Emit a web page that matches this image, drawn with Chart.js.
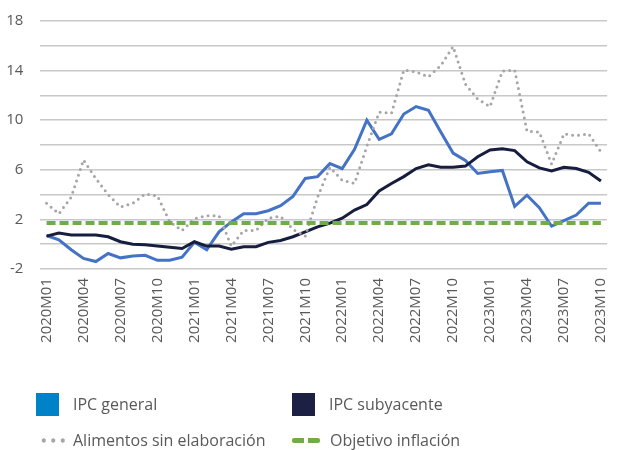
<!DOCTYPE html>
<html lang="es">
<head>
    <meta charset="UTF-8">
    <title>IPC</title>
    <script src="https://cdn.jsdelivr.net/npm/chart.js@4"></script>
    <style>
        body { margin: 0; background: #fff; font-family: "Open Sans", sans-serif; }
        .lienzo { position: relative; width: 628px; height: 450px; }
        .leyenda { position: absolute; left: 0; top: 0; width: 628px; height: 450px; pointer-events: none; }
        .item { position: absolute; display: flex; align-items: center; font-size: 16px; color: #595959; height: 24px; }
        .cuadro { width: 23px; height: 23px; margin-right: 14px; }
        .puntos { width: 30px; height: 5px; margin-right: 4px;
            background: radial-gradient(circle, #a6a6a6 1.9px, transparent 2.4px) 0 0 / 9.5px 5px repeat-x; }
        .rayas { width: 28px; height: 5px; margin-right: 10px;
            background: linear-gradient(90deg, #70ad47 0 12px, transparent 12px 16px, #70ad47 16px 28px); border-radius: 2px; }
    </style>
</head>
<body>
<div class="lienzo">
    <canvas id="grafico" width="628" height="450"></canvas>
    <div class="leyenda">
        <div class="item" style="left:36px; top:392px;"><span class="cuadro" style="background:#0082c8"></span>IPC general</div>
        <div class="item" style="left:292px; top:392px;"><span class="cuadro" style="background:#1c2143"></span>IPC subyacente</div>
        <div class="item" style="left:39px; top:428px;"><span class="puntos"></span>Alimentos sin elaboración</div>
        <div class="item" style="left:292px; top:428px;"><span class="rayas"></span>Objetivo inflación</div>
    </div>
</div>

<script>
    // Meses (2020M01 - 2023M10)
    const meses = [
        '2020M01', '2020M02', '2020M03', '2020M04', '2020M05', '2020M06', '2020M07', '2020M08', '2020M09', '2020M10', '2020M11', '2020M12',
        '2021M01', '2021M02', '2021M03', '2021M04', '2021M05', '2021M06', '2021M07', '2021M08', '2021M09', '2021M10', '2021M11', '2021M12',
        '2022M01', '2022M02', '2022M03', '2022M04', '2022M05', '2022M06', '2022M07', '2022M08', '2022M09', '2022M10', '2022M11', '2022M12',
        '2023M01', '2023M02', '2023M03', '2023M04', '2023M05', '2023M06', '2023M07', '2023M08', '2023M09', '2023M10'
    ];

    const ipcGeneral = [
        0.7, 0.35, -0.45, -1.15, -1.4, -0.75, -1.1, -0.95, -0.9, -1.3, -1.3, -1.05,
        0.15, -0.45, 1.0, 1.8, 2.45, 2.45, 2.7, 3.1, 3.85, 5.3, 5.45, 6.5,
        6.1, 7.65, 10.0, 8.45, 8.9, 10.5, 11.1, 10.8, 9.05, 7.35, 6.75, 5.7,
        5.85, 5.95, 3.05, 3.95, 2.95, 1.45, 1.9, 2.35, 3.3, 3.3
    ];

    const ipcSubyacente = [
        0.65, 0.9, 0.75, 0.75, 0.75, 0.6, 0.2, 0.0, -0.05, -0.15, -0.25, -0.35,
        0.2, -0.15, -0.15, -0.4, -0.2, -0.2, 0.15, 0.3, 0.6, 1.0, 1.4, 1.7,
        2.1, 2.75, 3.2, 4.3, 4.9, 5.45, 6.1, 6.4, 6.2, 6.2, 6.3, 7.05,
        7.6, 7.7, 7.55, 6.65, 6.15, 5.9, 6.2, 6.1, 5.8, 5.1
    ];

    const alimentos = [
        3.3, 2.45, 3.8, 6.8, 5.3, 4.0, 3.0, 3.3, 4.05, 3.9, 1.8, 1.1,
        2.05, 2.3, 2.3, -0.15, 1.1, 1.1, 2.1, 2.25, 1.2, 0.65, 3.8, 6.2,
        5.15, 4.9, 7.9, 10.65, 10.55, 14.05, 13.9, 13.5, 14.4, 15.95, 12.9, 11.7,
        11.1, 13.95, 14.05, 9.1, 9.05, 6.45, 8.9, 8.75, 8.9, 7.45
    ];

    const objetivo = 1.7; // línea horizontal

    const ctx = document.getElementById('grafico').getContext('2d');
    const chart = new Chart(ctx, {
        type: 'line',
        data: {
            labels: meses,
            datasets: [
                { label: 'IPC general', data: ipcGeneral, borderColor: '#4472c4', borderWidth: 3, order: 4 },
                { label: 'IPC subyacente', data: ipcSubyacente, borderColor: '#171d3e', borderWidth: 3, order: 3 },
                { label: 'Alimentos sin elaboración', data: alimentos, borderColor: '#a6a6a6', borderWidth: 3,
                  borderDash: [0, 6], borderCapStyle: 'round', order: 2 },
                { label: 'Objetivo inflación', data: meses.map(() => objetivo), borderColor: '#70ad47', borderWidth: 4,
                  borderDash: [9, 4], order: 1 }
            ]
        },
        options: {
            responsive: false,
            animation: false,
            elements: { point: { radius: 0 }, line: { tension: 0, borderJoinStyle: 'miter' } },
            layout: { padding: { left: 0, right: 8, top: 21, bottom: 0 } },
            plugins: { legend: { display: false }, tooltip: { enabled: false } },
            scales: {
                x: {
                    offset: true,
                    grid: { display: false, drawTicks: false },
                    border: { display: false },
                    afterFit: s => { s.height = 181; },
                    ticks: {
                        autoSkip: false, minRotation: 90, maxRotation: 90, padding: 9,
                        color: '#595959', font: { family: 'Open Sans', size: 15 },
                        callback: (v, i) => (i % 3 === 0 ? meses[i] : '')
                    }
                },
                y: {
                    min: -2, max: 18,
                    grid: { color: '#c8c8c8', lineWidth: 1.5, drawTicks: false },
                    border: { display: false },
                    afterFit: s => { s.width = 40.4; s.paddingTop = 0; s.paddingBottom = 0; },
                    ticks: {
                        stepSize: 2, padding: 17,
                        color: '#595959', font: { family: 'Open Sans', size: 15 },
                        callback: v => ((v + 2) % 4 === 0 ? v : '')
                    }
                }
            }
        }
    });
</script>
</body>
</html>
